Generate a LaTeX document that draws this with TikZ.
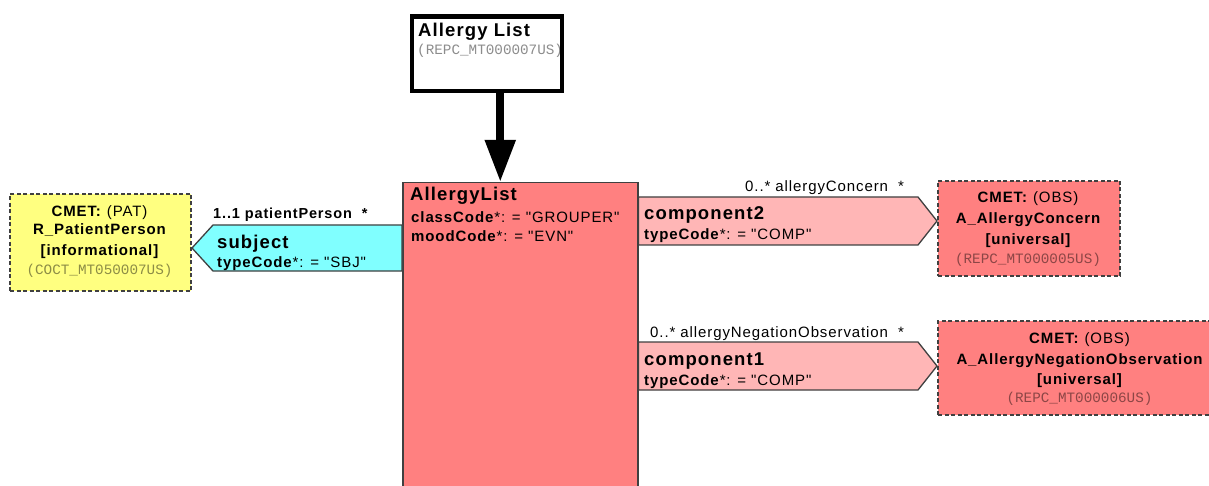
\documentclass[tikz,border=0pt]{standalone}
\usepackage{fontspec}
\setmainfont{Liberation Sans}[LetterSpace=6, Ligatures=TeXOff]
\newfontfamily\codefont{Liberation Mono}
\usetikzlibrary{arrows.meta}

\definecolor{actpink}{HTML}{FF8080}
\definecolor{linkpink}{HTML}{FFB6B6}
\definecolor{linkcyan}{HTML}{80FFFF}
\definecolor{roleyellow}{HTML}{FFFF80}
\definecolor{edgegray}{HTML}{404040}

\tikzset{
  body/.style={font=\fontsize{15}{18}\selectfont, inner sep=0pt, anchor=base west},
  centred/.style={font=\fontsize{15}{18}\selectfont, inner sep=0pt, anchor=base},
  centredbold/.style={font=\fontsize{15}{18}\selectfont\bfseries, inner sep=0pt, anchor=base},
  headline/.style={font=\fontsize{18.5}{22}\selectfont\bfseries, inner sep=0pt, anchor=base west},
  ident/.style={font=\fontsize{14.3}{17}\selectfont\codefont, text=black, text opacity=0.45, inner sep=0pt, anchor=base},
  actbox/.style={draw=edgegray, line width=1.5pt, fill=actpink, anchor=north west, inner sep=0pt},
  cmetbox/.style={draw=edgegray, line width=2pt, dash pattern=on 4pt off 2.5pt, anchor=north west, inner sep=0pt},
  linkshape/.style={draw=edgegray, line width=1.3pt, line join=miter},
  entrybox/.style={draw=black, line width=4.5pt, fill=white, anchor=north west, inner sep=0pt},
}

\begin{document}
\begin{tikzpicture}[x=1pt, y=-1pt]
\useasboundingbox (0,0) rectangle (1209,486);
\clip (0,0) rectangle (1209,486);

% entry point of the model
\node[entrybox, minimum width=150pt, minimum height=74.5pt] (entry) at (409.75,14.25) {};
\node[headline] (entrytitle) at (418,37) {Allergy List};
\node[ident, anchor=base west] (entryid) at (417,55) {(REPC\_MT000007US)};

% focal act
\node[actbox, minimum width=235pt, minimum height=330pt] (main) at (402,182) {};
\node[headline] (maintitle) at (410,201) {AllergyList};
\node[body] (mainclass) at (411,223) {\textbf{classCode}*: = "GROUPER"};
\node[body] (mainmood) at (411,242) {\textbf{moodCode}*: = "EVN"};

% entry arrow
\draw[line width=8pt, -{Triangle[length=42pt, width=29pt]}]
  ([xshift=13.25pt]entry.south) -- ([xshift=13.25pt]entry.south |- main.north);

% patient CMET
\node[cmetbox, fill=roleyellow, minimum width=181pt, minimum height=97pt] (pat) at (9,193) {};
\node[centred] (pat1) at (99.5,217) {\textbf{CMET:} (PAT)};
\node[centredbold] (pat2) at (99.5,235) {R\_PatientPerson};
\node[centredbold] (pat3) at (99.5,255) {[informational]};
\node[ident] (pat4) at (99.5,274) {(COCT\_MT050007US)};

% subject participation
\coordinate (subjtip) at (pat.east |- 0,248);
\draw[linkshape, fill=linkcyan]
  (main.west |- 0,225) -- (213,225) -- (subjtip) -- (213,271) -- (main.west |- 0,271) -- cycle;
\node[body, font=\fontsize{14.5}{17}\selectfont\bfseries] (subjrole) at (213,219) {1..1 patientPerson\ \ *};
\node[headline] (subjname) at (217,248) {subject};
\node[body] (subjcode) at (217,267) {\textbf{typeCode}*: = "SBJ"};

% allergy concern CMET
\node[cmetbox, fill=actpink, minimum width=182pt, minimum height=95pt] (conc) at (937,180) {};
\node[centred] (conc1) at (1028,203) {\textbf{CMET:} (OBS)};
\node[centredbold] (conc2) at (1028,224) {A\_AllergyConcern};
\node[centredbold] (conc3) at (1028,245) {[universal]};
\node[ident] (conc4) at (1028,263) {(REPC\_MT000005US)};

% component2 act relationship
\draw[linkshape, fill=linkpink]
  (main.east |- 0,197) -- (918,197) -- (conc.west |- 0,221) -- (918,245) -- (main.east |- 0,245) -- cycle;
\node[body] (c2role) at (745,192) {0..* allergyConcern\ \ *};
\node[headline] (c2name) at (644,220) {component2};
\node[body] (c2code) at (644,240) {\textbf{typeCode}*: = "COMP"};

% negation observation CMET
\node[cmetbox, fill=actpink, minimum width=285pt, minimum height=94pt] (neg) at (937,320) {};
\node[centred] (neg1) at (1079.5,343) {\textbf{CMET:} (OBS)};
\node[centredbold] (neg2) at (1079.5,364) {A\_AllergyNegationObservation};
\node[centredbold] (neg3) at (1079.5,384) {[universal]};
\node[ident] (neg4) at (1079.5,402) {(REPC\_MT000006US)};

% component1 act relationship
\draw[linkshape, fill=linkpink]
  (main.east |- 0,342) -- (918,342) -- (neg.west |- 0,366) -- (918,390) -- (main.east |- 0,390) -- cycle;
\node[body] (c1role) at (650,337) {0..* allergyNegationObservation\ \ *};
\node[headline] (c1name) at (644,365) {component1};
\node[body] (c1code) at (644,385) {\textbf{typeCode}*: = "COMP"};
\end{tikzpicture}
\end{document}
